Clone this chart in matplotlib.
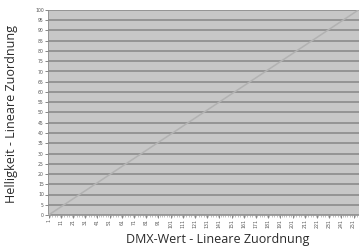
import matplotlib
matplotlib.use('Agg')
import matplotlib.pyplot as plt
from matplotlib.ticker import MultipleLocator

# DMX value range and the brightness it maps to (linear)
dmx_ends = [1, 255]
helligkeit_ends = [0, 100]

x_tick_vals = [1, 11, 21, 31, 41, 51, 61, 71, 81, 91, 101, 111, 121,
               131, 141, 151, 161, 171, 181, 191, 201, 211, 221, 231, 241, 251]
y_tick_vals = [0, 5, 10, 15, 20, 25, 30, 35, 40, 45, 50, 55, 60, 65,
               70, 75, 80, 85, 90, 95, 100]

fig = plt.figure(figsize=(3.59, 2.47), dpi=100)
ax = fig.add_axes([48 / 359, 32 / 247, 311 / 359, 205 / 247])
ax.set_facecolor('#c7c7c7')

ax.plot(dmx_ends, helligkeit_ends, color='#b2b2b2', lw=1.1, zorder=3)

ax.set_xlim(0.5, 255.5)
ax.set_ylim(0, 100)
ax.set_yticks(y_tick_vals)
ax.set_xticks(x_tick_vals)
ax.set_xticklabels([str(v) for v in x_tick_vals], rotation=90)
ax.xaxis.set_minor_locator(MultipleLocator(2))

ax.grid(axis='y', color='#8c8c8c', lw=1.2, zorder=1)
ax.set_axisbelow(True)

for s in ['top', 'right']:
    ax.spines[s].set_visible(False)
ax.spines['left'].set_color('#909090')
ax.spines['bottom'].set_color('#909090')
ax.spines['left'].set_linewidth(0.6)
ax.spines['bottom'].set_linewidth(0.6)

ax.tick_params(axis='both', labelsize=3.3, colors='#555555', length=2, width=0.5, pad=1)
ax.tick_params(axis='x', which='minor', length=1.5, width=0.4, color='#909090')

# axis titles placed as figure text (centres)
fig.text(218 / 359, 1 - 239 / 247, 'DMX-Wert - Lineare Zuordnung', fontsize=9.0,
         family='Open Sans', color='#2a2a2a', ha='center', va='center')
fig.text(12 / 359, 1 - 114 / 247, 'Helligkeit - Lineare Zuordnung', fontsize=9.0,
         family='Open Sans', color='#2a2a2a', ha='center', va='center', rotation=90)

fig.savefig('out.png', dpi=100)
